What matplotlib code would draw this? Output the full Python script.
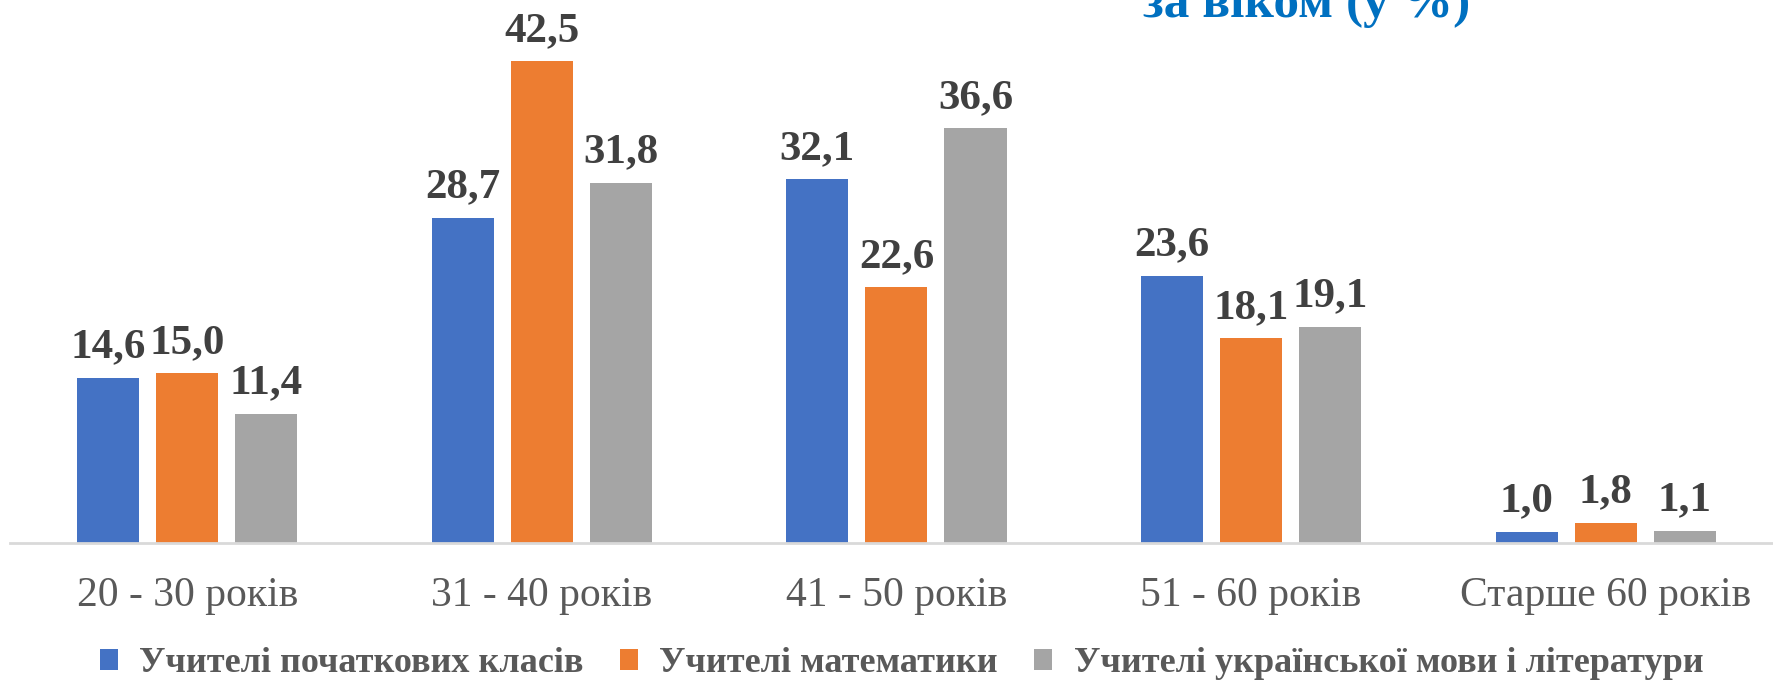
import numpy as np
import matplotlib.pyplot as plt

categories = ["20 - 30 років", "31 - 40 років", "41 - 50 років", "51 - 60 років", "Старше 60 років"]
series_names = ["Учителі початкових класів", "Учителі математики",
                "Учителі української мови і літератури"]
primary = [14.6, 28.7, 32.1, 23.6, 1.0]
math = [15.0, 42.5, 22.6, 18.1, 1.8]
ukrainian = [11.4, 31.8, 36.6, 19.1, 1.1]

colors = ["#4472C4", "#ED7D31", "#A5A5A5"]

plt.rcParams["font.family"] = ["Liberation Serif", "DejaVu Serif"]

fig = plt.figure(figsize=(17.73, 6.82), dpi=100)
ax = fig.add_axes([0.0056, 0.2038, 1.0, 0.7478])

x = np.arange(len(categories))
width = 0.175
step = 0.223

for i, (values, name) in enumerate(zip([primary, math, ukrainian], series_names)):
    bars = ax.bar(x + (i - 1) * step, values, width, color=colors[i], label=name)
    for bar, v in zip(bars, values):
        ax.annotate(f"{v:.1f}".replace(".", ","),
                    (bar.get_x() + bar.get_width() / 2, bar.get_height()),
                    xytext=(0, 8), textcoords="offset points",
                    ha="center", va="bottom", fontsize=31, fontweight="bold",
                    color="#404040")

ax.set_xlim(-0.5, 4.5)
ax.set_ylim(0, 45)
ax.set_yticks([])
ax.set_xticks(x)
ax.set_xticklabels(categories, fontsize=30, color="#595959")
ax.tick_params(axis="x", length=0, pad=24)
for side in ["top", "right", "left"]:
    ax.spines[side].set_visible(False)
ax.spines["bottom"].set_color("#D9D9D9")
ax.spines["bottom"].set_linewidth(2)

leg = fig.legend(loc="center", bbox_to_anchor=(0.5085, 1 - 664 / 682), ncol=3,
                 frameon=False, handlelength=0.5, handleheight=0.5,
                 handletextpad=0.6, columnspacing=1.0,
                 prop={"size": 26, "weight": "bold"})
for t in leg.get_texts():
    t.set_color("#595959")

fig.text(0.737, 1 - 17 / 682, "за віком (у %)", ha="center", va="baseline",
         fontsize=37, fontweight="bold", color="#0070C0")

fig.savefig("out.png", dpi=100)
